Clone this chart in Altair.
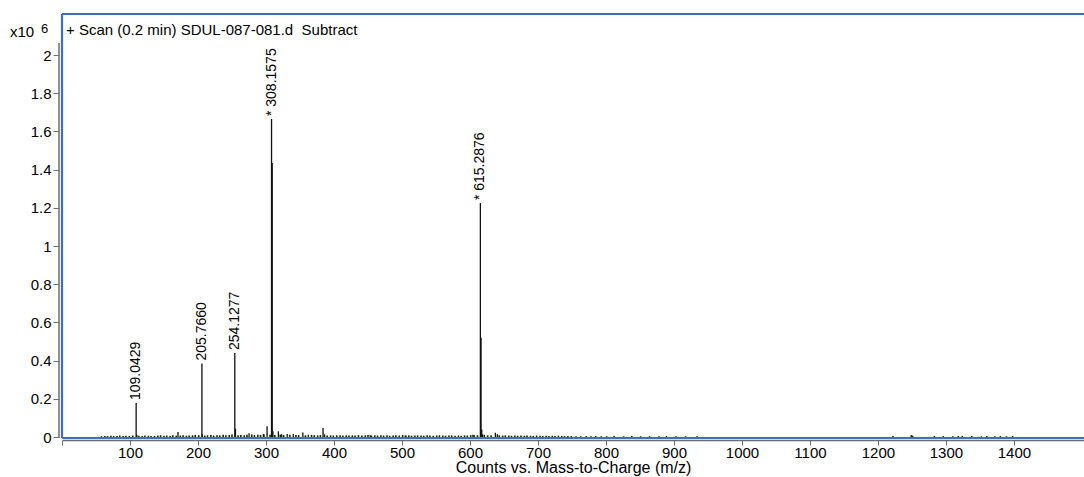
import altair as alt
import pandas as pd

# ---- data ----
peak_mz = [109.0429, 110.046, 170.6, 205.7660, 206.27, 254.1277, 255.131, 275.1, 296.2, 301.6,
           308.1575, 309.161, 310.164, 318.2, 323.1, 331.2, 340.1, 354.2, 362.2, 383.9,
           386.2, 453.3, 505.8, 604.3, 615.2876, 616.291, 617.294, 618.3, 637.3, 640.2]
peak_int = [0.178, 0.012, 0.026, 0.385, 0.014, 0.44, 0.044, 0.02, 0.016, 0.056,
            1.665, 1.435, 0.03, 0.03, 0.014, 0.016, 0.016, 0.024, 0.012, 0.047,
            0.014, 0.01, 0.008, 0.012, 1.225, 0.52, 0.04, 0.014, 0.022, 0.014]

noise_mz = [58, 63, 67, 72, 76, 81, 85, 90, 94, 99,
            104, 113, 118, 122, 127, 131, 136, 141, 145, 150,
            154, 159, 163, 168, 174, 178, 183, 187, 192, 196,
            201, 210, 214, 219, 223, 228, 232, 237, 241, 246,
            250, 259, 263, 268, 272, 279, 283, 288, 292, 297,
            306, 313, 321, 326, 335, 344, 348, 358, 367, 371,
            376, 380, 390, 395, 399, 404, 409, 413, 418, 422,
            427, 431, 436, 441, 446, 450, 455, 460, 464, 469,
            473, 478, 482, 487, 491, 496, 501, 505, 510, 514,
            519, 523, 528, 532, 537, 541, 546, 551, 555, 560,
            564, 569, 573, 578, 583, 587, 592, 596, 601, 606,
            611, 621, 626, 631, 643, 648, 652, 657, 661, 666,
            670, 675, 680, 684, 689, 693, 698, 703, 707, 712,
            716, 721, 725, 730, 735, 739, 744, 749, 756, 763,
            771, 778, 785, 793, 801, 812, 826, 838, 851, 864,
            878, 889, 903, 917, 934, 1222, 1249, 1283, 1296, 1310,
            1318, 1324, 1338, 1352, 1360, 1372, 1380, 1389, 1398, 1251]
noise_int = [.004, .006, .005, .007, .005, .006, .008, .005, .007, .006,
             .008, .007, .006, .008, .007, .005, .006, .008, .009, .007,
             .008, .006, .009, .007, .008, .010, .007, .008, .009, .011,
             .010, .008, .009, .011, .008, .010, .009, .012, .010, .011,
             .013, .010, .011, .009, .012, .014, .010, .012, .011, .013,
             .012, .011, .013, .010, .012, .011, .010, .009, .011, .010,
             .009, .010, .008, .009, .008, .009, .010, .008, .009, .008,
             .009, .008, .010, .008, .009, .011, .008, .009, .008, .009,
             .008, .009, .007, .008, .009, .008, .010, .008, .009, .007,
             .008, .009, .008, .007, .009, .008, .007, .008, .009, .008,
             .007, .008, .009, .007, .008, .007, .009, .008, .010, .011,
             .010, .012, .009, .010, .009, .008, .009, .008, .007, .008,
             .007, .008, .007, .008, .007, .006, .008, .007, .006, .007,
             .006, .007, .006, .007, .006, .005, .006, .005, .004, .004,
             .005, .004, .005, .004, .004, .005, .004, .005, .004, .004,
             .004, .005, .004, .004, .004, .006, .010, .006, .005, .004,
             .005, .006, .005, .004, .005, .004, .005, .004, .006, .007]

label_mz = [109.0429, 205.7660, 254.1277, 308.1575, 615.2876]
label_int = [0.178, 0.385, 0.44, 1.665, 1.225]
label_text = ["109.0429", "205.7660", "254.1277", "* 308.1575", "* 615.2876"]

x_ticks = [0, 100, 200, 300, 400, 500, 600, 700, 800, 900, 1000, 1100, 1200, 1300, 1400]
y_ticks = [0, 0.2, 0.4, 0.6, 0.8, 1, 1.2, 1.4, 1.6, 1.8, 2]

title_text = "+ Scan (0.2 min) SDUL-087-081.d\u00a0 Subtract"
x_title = "Counts vs. Mass-to-Charge (m/z)"

W, H = 1022, 424
FONT = "Liberation Sans, Arial, Helvetica, sans-serif"
BLUE = "#3b6fcc"
GRAY = "#6e6e6e"

peaks = pd.DataFrame({"mz": peak_mz, "intensity": peak_int, "base": 0.0})
noise = pd.DataFrame({"mz": noise_mz, "intensity": noise_int, "base": 0.0})
labels = pd.DataFrame({"mz": label_mz, "intensity": label_int, "label": label_text})

x_scale = alt.Scale(domain=[0, 1503], nice=False, zero=False)
y_scale = alt.Scale(domain=[-0.005, 2.215], nice=False, zero=False)

x_axis = alt.Axis(values=x_ticks, format="d", title=x_title,
                  labelExpr="datum.value == 0 ? '' : datum.label",
                  domainColor=GRAY, tickColor=GRAY, domainWidth=1.5, tickWidth=1,
                  offset=2, tickSize=5, labelPadding=0, titlePadding=-1,
                  labelFont=FONT, titleFont=FONT, labelFontSize=15, titleFontSize=16,
                  titleFontWeight="normal", labelColor="black", titleColor="black",
                  grid=False, labelFlush=False)
y_axis = alt.Axis(values=y_ticks, format="~g", title=None, domain=False,
                  tickColor=GRAY, offset=3, tickSize=6, labelPadding=2,
                  labelFont=FONT, labelFontSize=15, labelColor="black", grid=False)

X = alt.X("mz:Q", scale=x_scale, axis=x_axis)
Y = alt.Y("intensity:Q", scale=y_scale, axis=y_axis)

sticks = alt.Chart(peaks).mark_rule(color="#111111", strokeWidth=1.3).encode(
    x=X, y=Y, y2=alt.Y2("base:Q"),
)

noise_layer = alt.Chart(noise).mark_rule(color="#1a1a1a", strokeWidth=1.6).encode(
    x=X, y=Y, y2=alt.Y2("base:Q"),
)

peak_labels = alt.Chart(labels).mark_text(
    angle=270, align="left", baseline="middle", dx=3,
    font=FONT, fontSize=14, color="black",
).encode(x=X, y=Y, text="label:N")

one = pd.DataFrame({"t": [title_text]})
title_mark = alt.Chart(one).mark_text(
    align="left", baseline="middle", font=FONT, fontSize=15, color="black"
).encode(x=alt.value(4), y=alt.value(16), text="t:N")

x10 = alt.Chart(pd.DataFrame({"t": ["x10"]})).mark_text(
    align="left", baseline="alphabetic", font=FONT, fontSize=15, color="black"
).encode(x=alt.value(-52), y=alt.value(23), text="t:N")
exp6 = alt.Chart(pd.DataFrame({"t": ["6"]})).mark_text(
    align="left", baseline="alphabetic", font=FONT, fontSize=13, color="black"
).encode(x=alt.value(-21), y=alt.value(19), text="t:N")

frame_src = pd.DataFrame({"k": [0]})
y_domain_line = alt.Chart(frame_src).mark_rule(color=GRAY, strokeWidth=1.5).encode(
    x=alt.value(-3), y=alt.value(29), y2=alt.value(H))
frame_left = alt.Chart(frame_src).mark_rule(color=BLUE, strokeWidth=2.2).encode(
    x=alt.value(0), y=alt.value(0), y2=alt.value(H))
frame_top = alt.Chart(frame_src).mark_rule(color=BLUE, strokeWidth=2.2).encode(
    x=alt.value(0), x2=alt.value(W), y=alt.value(0))
frame_bottom = alt.Chart(frame_src).mark_rule(color=BLUE, strokeWidth=2.2).encode(
    x=alt.value(0), x2=alt.value(W), y=alt.value(H))

chart = alt.layer(
    sticks, y_domain_line, frame_bottom, noise_layer, peak_labels,
    frame_left, frame_top, title_mark, x10, exp6,
).properties(
    width=W, height=H,
    autosize=alt.AutoSizeParams(type="none"),
    padding={"left": 62, "top": 14, "right": 0, "bottom": 477 - 14 - H},
    background="white",
).configure_view(stroke=None)

chart.save("out.html", embed_options={"renderer": "svg", "actions": False})
